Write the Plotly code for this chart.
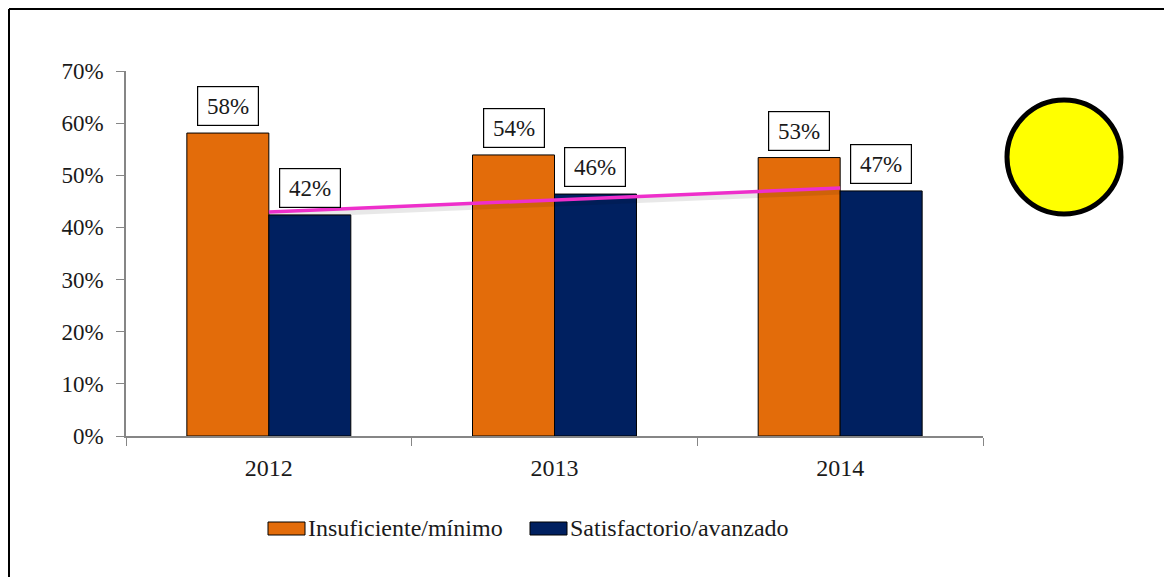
import numpy as np
import plotly.graph_objects as go

years = ['2012', '2013', '2014']
insuficiente = [0.581, 0.539, 0.534]
satisfactorio = [0.424, 0.464, 0.470]
series_names = ['Insuficiente/mínimo', 'Satisfactorio/avanzado']
series_colors = ['#E36C0A', '#002060']
y_ticks = [0, 0.1, 0.2, 0.3, 0.4, 0.5, 0.6, 0.7]

W, H = 1172, 577
OFF = 8  # page body margin
L, R, T, B = 126 - OFF, 197, 71 - OFF, 149
pw, ph = W - L - R, H - T - B
bargap = 0.426
font = 'Liberation Serif'


# screen pixel -> paper coords
def px(x):
    return (x - OFF - L) / pw


def py(y):
    return (H - B - (y - OFF)) / ph


fig = go.Figure()
for name, vals, col in zip(series_names, [insuficiente, satisfactorio], series_colors):
    fig.add_trace(go.Bar(x=years, y=vals, name=name, marker_color=col,
                         marker_line=dict(color='black', width=1), showlegend=False))

# linear trend of the second series
idx = np.arange(len(years))
k, b0 = np.polyfit(idx, satisfactorio, 1)
trend = k * idx + b0
shift = 3.5 / ph * 0.7
fig.add_trace(go.Scatter(x=years, y=trend - shift, mode='lines', showlegend=False,
                         line=dict(color='rgba(0,0,0,0.09)', width=6), hoverinfo='skip'))
fig.add_trace(go.Scatter(x=years, y=trend, mode='lines', showlegend=False,
                         line=dict(color='#EE2FCB', width=3.5), hoverinfo='skip'))

# boxed data labels
off = (1 - bargap) / 4
for j, vals in enumerate([insuficiente, satisfactorio]):
    for i, v in enumerate(vals):
        fig.add_annotation(x=i + (2 * j - 1) * off, y=v, xref='x', yref='y',
                           text=f'{round(v * 100)}%', showarrow=False,
                           yanchor='bottom', yshift=7, width=50, height=28,
                           bgcolor='white', bordercolor='black', borderwidth=1.2,
                           borderpad=5, font=dict(family=font, size=23, color='#1a1a1a'))

shapes = []
# manual legend
leg_y = 528
for name, col, x0 in zip(series_names, series_colors, [268, 530]):
    shapes.append(dict(type='rect', xref='paper', yref='paper',
                       x0=px(x0), x1=px(x0 + 37), y0=py(leg_y + 7), y1=py(leg_y - 6),
                       fillcolor=col, line=dict(color='black', width=1)))
    fig.add_annotation(x=px(x0 + 38), y=py(leg_y), xref='paper', yref='paper',
                       text=name, showarrow=False, xanchor='left', yanchor='middle',
                       font=dict(family=font, size=24, color='#1a1a1a'))

# yellow circle
shapes.append(dict(type='circle', xref='paper', yref='paper',
                   x0=px(1007), x1=px(1121), y0=py(214), y1=py(100),
                   fillcolor='#FFFF00', line=dict(color='black', width=5)))
# outer frame
shapes.append(dict(type='line', xref='paper', yref='paper',
                   x0=px(9), x1=px(1190), y0=py(9), y1=py(9),
                   line=dict(color='black', width=2)))
shapes.append(dict(type='line', xref='paper', yref='paper',
                   x0=px(9), x1=px(9), y0=py(9), y1=py(600),
                   line=dict(color='black', width=2)))

fig.update_layout(
    width=W, height=H,
    margin=dict(l=L, r=R, t=T, b=B),
    paper_bgcolor='white', plot_bgcolor='white',
    barmode='group', bargap=bargap, bargroupgap=0,
    shapes=shapes,
    font=dict(family=font, size=22, color='#1a1a1a'),
)
fig.update_xaxes(type='category', showline=True, linecolor='#868686', linewidth=1.5,
                 ticks='outside', tickson='boundaries', ticklen=8, tickcolor='#868686',
                 tickfont=dict(family=font, size=24), ticklabelstandoff=9,
                 showgrid=False)
fig.update_yaxes(range=[0, 0.7], tickvals=y_ticks, tickformat='.0%', showline=True,
                 linecolor='#868686', linewidth=1.5, ticks='outside', ticklen=8,
                 tickcolor='#868686', tickfont=dict(family=font, size=23),
                 ticklabelstandoff=8, showgrid=False, zeroline=False)

fig.write_html('out.html')
